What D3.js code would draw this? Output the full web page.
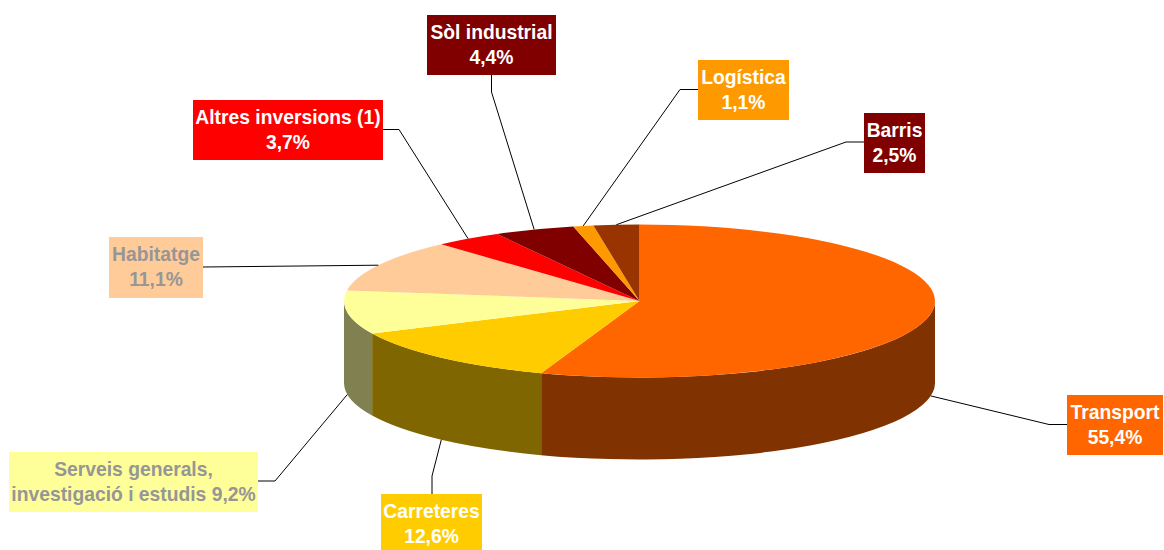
<!DOCTYPE html>
<html>
<head>
<meta charset="utf-8">
<style>
html,body{margin:0;padding:0;background:#fff;}
svg{display:block;}
text{font-family:"Liberation Sans",Arial,sans-serif;font-weight:bold;font-size:19.3px;text-anchor:middle;}
</style>
<script src="https://cdn.jsdelivr.net/npm/d3@7"></script>
</head>
<body>
<svg id="chart" width="1164" height="550"></svg>
<script>
const categories = ["Transport","Carreteres","Serveis generals, investigació i estudis","Habitatge","Altres inversions (1)","Sòl industrial","Logística","Barris"];
const values = [55.4,12.6,9.2,11.1,3.7,4.4,1.1,2.5];
const labelLines = [["Transport","55,4%"],["Carreteres","12,6%"],["Serveis generals,","investigació i estudis 9,2%"],["Habitatge","11,1%"],["Altres inversions (1)","3,7%"],["Sòl industrial","4,4%"],["Logística","1,1%"],["Barris","2,5%"]];
const topColors = ["#FF6600","#FFCC00","#FFFF99","#FFCC99","#FF0000","#800000","#FF9900","#993300"];
const wallColors = ["#803300","#806600","#808050","#806650","#800000","#400000","#804D00","#4D1A00"];
const boxColors = ["#FF6600","#FFCC00","#FFFF99","#FFCC99","#FF0000","#800000","#FF9900","#800000"];
const textColors = ["#fff","#fff","#969696","#969696","#fff","#fff","#fff","#fff"];
// layout of the label boxes: [x0,y0,x1,y1] and the leader-line elbow points
const boxes = [[1067,395,1163,455],[381,494,482,550],[9,452,258,512],[109,237,203,298],[193,100,383,160],[427,15,556,75],[698,60,789,120],[864,113,925,173]];
const elbows = [[[1049,424.5],[1067,424.5]],[[432,476],[432,494]],[[275,481],[258,481]],[[203,267]],[[399,129.5],[383,129.5]],[[491.5,92],[491.5,75]],[[680,89.5],[698,89.5]],[[846,142],[864,142]]];

const cx = 639.5, cy = 301, rx = 295.5, ry = 76.5, depth = 82;
const svg = d3.select("#chart");
const data = categories.map((c,i)=>({c,v:values[i],i}));
const arcs = d3.pie().value(d=>d.v).sort(null).startAngle(0).endAngle(2*Math.PI)(data);
const px = a => cx + rx*Math.sin(a);
const py = a => cy - ry*Math.cos(a);

// front walls: visible part of the rim lies between 90 and 270 degrees
const wall = svg.append("g");
arcs.forEach(d=>{
  const a0 = Math.max(d.startAngle, Math.PI/2), a1 = Math.min(d.endAngle, 3*Math.PI/2);
  if(a1 <= a0) return;
  const large = a1-a0 > Math.PI ? 1 : 0;
  const s = `M${px(a0)},${py(a0)}A${rx},${ry} 0 ${large} 1 ${px(a1)},${py(a1)}L${px(a1)},${py(a1)+depth}A${rx},${ry} 0 ${large} 0 ${px(a0)},${py(a0)+depth}Z`;
  wall.append("path").attr("d",s).attr("fill",wallColors[d.data.i]);
});

// top face
const arcGen = d3.arc().innerRadius(0).outerRadius(1);
svg.append("g").attr("transform",`translate(${cx},${cy}) scale(${rx},${ry})`)
  .selectAll("path").data(arcs).join("path")
  .attr("d",arcGen).attr("fill",d=>topColors[d.data.i]);

// leader lines, anchored at each slice's mid-angle
const line = d3.line();
svg.append("g").selectAll("path").data(arcs).join("path")
  .attr("fill","none").attr("stroke","#000").attr("stroke-width",1)
  .attr("d",d=>{
    const m = (d.startAngle+d.endAngle)/2;
    const front = Math.cos(m) < 0;
    const start = [px(m), py(m)+(front?depth:0)];
    return line([start,...elbows[d.data.i]]);
  });

// label boxes
const lab = svg.append("g").selectAll("g").data(data).join("g");
lab.append("rect")
  .attr("x",d=>boxes[d.i][0]).attr("y",d=>boxes[d.i][1])
  .attr("width",d=>boxes[d.i][2]-boxes[d.i][0]).attr("height",d=>boxes[d.i][3]-boxes[d.i][1])
  .attr("fill",d=>boxColors[d.i]);
lab.each(function(d){
  const b = boxes[d.i], g = d3.select(this), mid = (b[0]+b[2])/2;
  labelLines[d.i].forEach((t,k)=>{
    g.append("text").attr("x",mid).attr("y",b[1]+24+k*25).attr("fill",textColors[d.i]).text(t);
  });
});
</script>
</body>
</html>
